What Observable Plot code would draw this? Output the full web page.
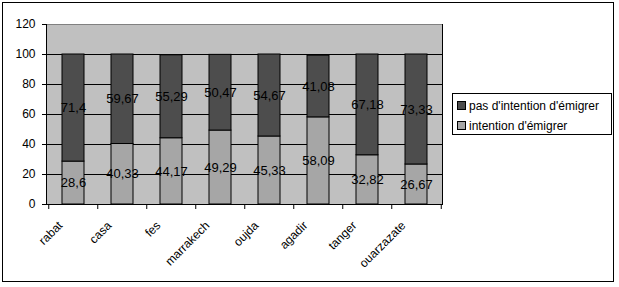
<!DOCTYPE html>
<html>
<head>
<meta charset="utf-8">
<script src="https://cdn.jsdelivr.net/npm/d3@7"></script>
<script src="https://cdn.jsdelivr.net/npm/@observablehq/plot@0.6"></script>
<style>
  body { margin: 0; background: #fff; font-family: "Liberation Sans", Arial, sans-serif; }
  #wrap { position: relative; width: 619px; height: 287px; overflow: hidden; }
  #border { position: absolute; left: 2px; top: 2px; width: 612px; height: 280px; border: 1px solid #000; box-sizing: border-box; pointer-events: none; }
  #legend { position: absolute; left: 452px; top: 93px; width: 160px; height: 42px; border: 1px solid #000; box-sizing: border-box; background: #fff; font-size: 12px; color: #000; }
  .item { position: absolute; left: 4px; height: 14px; line-height: 14px; white-space: nowrap; }
  .sw { display: inline-block; width: 7px; height: 7px; border: 1px solid #000; margin-right: 3px; vertical-align: 0px; }
</style>
</head>
<body>
<div id="wrap">
  <div id="chart"></div>
  <div id="border"></div>
  <div id="legend"></div>
</div>
<script>
const cities = ["rabat", "casa", "fes", "marrakech", "oujda", "agadir", "tanger", "ouarzazate"];
const intention = [28.6, 40.33, 44.17, 49.29, 45.33, 58.09, 32.82, 26.67];
const pasIntention = [71.4, 59.67, 55.29, 50.47, 54.67, 41.08, 67.18, 73.33];
const seriesNames = ["intention d'émigrer", "pas d'intention d'émigrer"];
const seriesColors = ["#a6a6a6", "#4d4d4d"];
const yTicks = [0, 20, 40, 60, 80, 100, 120];

const rows = [];
cities.forEach((c, i) => rows.push({city: c, series: seriesNames[0], value: intention[i]}));
cities.forEach((c, i) => rows.push({city: c, series: seriesNames[1], value: pasIntention[i]}));

const W = 619, H = 287;
const mL = 46, mR = 177, mT = 24, mB = 83;
const step = (W - mL - mR) / cities.length;
const fmt = v => String(v).replace(".", ",");

const chart = Plot.plot({
  width: W,
  height: H,
  marginLeft: mL,
  marginRight: mR,
  marginTop: mT,
  marginBottom: mB,
  style: {fontFamily: "'Liberation Sans', Arial, sans-serif", background: "transparent", color: "#000"},
  x: {domain: cities, paddingInner: 0.56, paddingOuter: 0.28, label: null},
  y: {domain: [0, 120], label: null},
  color: {domain: seriesNames, range: seriesColors},
  marks: [
    Plot.frame({fill: "#c0c0c0", stroke: "#808080"}),
    Plot.ruleY([20, 40, 60, 80, 100], {stroke: "#000", strokeWidth: 1}),
    Plot.frame({anchor: "right", stroke: "#000"}),
    Plot.barY(rows, Plot.stackY({x: "city", y: "value", fill: "series", stroke: "#000", strokeWidth: 1})),
    Plot.textY(rows, Plot.stackY({x: "city", y: "value", text: d => fmt(d.value), fontSize: 13, fill: "#000"})),
    Plot.frame({anchor: "left", stroke: "#000"}),
    Plot.frame({anchor: "bottom", stroke: "#000"}),
    Plot.ruleX(cities, {x: d => d, dx: -step / 2, insetTop: H - mT - mB, insetBottom: -5, stroke: "#000"}),
    Plot.ruleX(cities.slice(-1), {x: d => d, dx: step / 2, insetTop: H - mT - mB, insetBottom: -5, stroke: "#000"}),
    Plot.axisY({ticks: yTicks, tickSize: 4, tickPadding: 7, fontSize: 12, stroke: "#000", fill: "#000"}),
    Plot.axisX({tickSize: 0, tickRotate: -45, tickPadding: 8, dx: -13, dy: 11, fontSize: 12, fill: "#000"})
  ]
});
document.getElementById("chart").appendChild(chart);

const legend = document.getElementById("legend");
[[1, 5], [0, 25]].forEach(([k, top]) => {
  const it = document.createElement("div");
  it.className = "item";
  it.style.top = top + "px";
  const sw = document.createElement("span");
  sw.className = "sw";
  sw.style.background = seriesColors[k];
  it.appendChild(sw);
  it.appendChild(document.createTextNode(seriesNames[k]));
  legend.appendChild(it);
});
</script>
</body>
</html>
